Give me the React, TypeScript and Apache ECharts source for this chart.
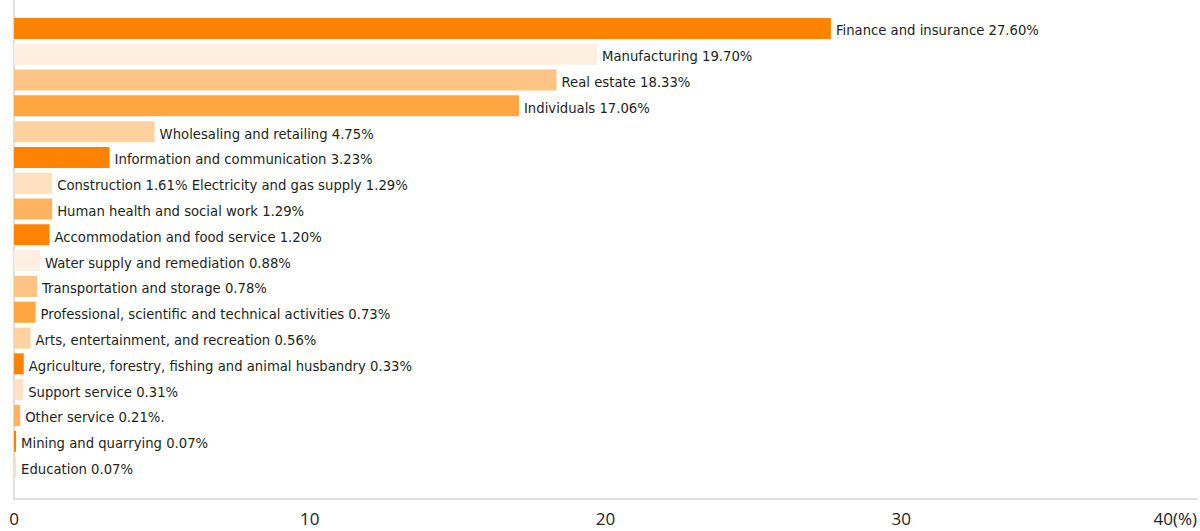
import React, { useEffect, useRef } from "react";
import * as echarts from "echarts";

const categories = [
  "Finance and insurance",
  "Manufacturing",
  "Real estate",
  "Individuals",
  "Wholesaling and retailing",
  "Information and communication",
  "Construction / Electricity and gas supply",
  "Human health and social work",
  "Accommodation and food service",
  "Water supply and remediation",
  "Transportation and storage",
  "Professional, scientific and technical activities",
  "Arts, entertainment, and recreation",
  "Agriculture, forestry, fishing and animal husbandry",
  "Support service",
  "Other service",
  "Mining and quarrying",
  "Education",
];

const values = [27.6, 19.7, 18.33, 17.06, 4.75, 3.23, 1.29, 1.29, 1.2, 0.88, 0.78, 0.73, 0.56, 0.33, 0.31, 0.21, 0.07, 0.07];

const labels = [
  "Finance and insurance 27.60%",
  "Manufacturing 19.70%",
  "Real estate 18.33%",
  "Individuals 17.06%",
  "Wholesaling and retailing 4.75%",
  "Information and communication 3.23%",
  "Construction 1.61% Electricity and gas supply 1.29%",
  "Human health and social work 1.29%",
  "Accommodation and food service 1.20%",
  "Water supply and remediation 0.88%",
  "Transportation and storage 0.78%",
  "Professional, scientific and technical activities 0.73%",
  "Arts, entertainment, and recreation 0.56%",
  "Agriculture, forestry, fishing and animal husbandry 0.33%",
  "Support service 0.31%",
  "Other service 0.21%.",
  "Mining and quarrying 0.07%",
  "Education 0.07%",
];

const barColors = [
  "#FF8200", "#FEEFE0", "#FFC385", "#FFA640", "#FFD19E", "#FF8200",
  "#FFE1C1", "#FFB360", "#FF8200", "#FEEFE0", "#FFC385", "#FFA640",
  "#FFD19E", "#FF8200", "#FFE1C1", "#FFB360", "#FF8200", "#FFE1C1",
];

const xTicks = [0, 10, 20, 30, 40];

export default function App() {
  const ref = useRef<HTMLDivElement>(null);
  useEffect(() => {
    if (!ref.current) return;
    const chart = echarts.init(ref.current, undefined, { renderer: "svg" });
    const axisColor = "#D4D4D4";
    chart.setOption({
      animation: false,
      backgroundColor: "#fff",
      grid: [
        { left: 14, right: 2, top: 15.5, height: 464.5, containLabel: false },
        { left: 14, right: 2, top: 0, bottom: 32, containLabel: false },
      ],
      xAxis: [
        { gridIndex: 0, type: "value", min: 0, max: 40, show: false },
        {
          gridIndex: 1,
          type: "value",
          min: xTicks[0],
          max: xTicks[xTicks.length - 1],
          interval: 10,
          axisLine: { show: true, lineStyle: { color: axisColor, width: 1.5 } },
          axisTick: { show: false },
          splitLine: { show: false },
          axisLabel: {
            margin: 11,
            fontFamily: "Open Sans",
            fontSize: 17,
            lineHeight: 17,
            color: "#222",
            alignMaxLabel: "right",
            formatter: (v: number) => (v === 40 ? "40(%)" : String(v)),
          },
        },
      ],
      yAxis: [
        { gridIndex: 0, type: "category", data: categories, inverse: true, show: false },
        {
          gridIndex: 1,
          type: "value",
          min: 0,
          max: 1,
          axisLine: { show: true, lineStyle: { color: axisColor, width: 1.5 } },
          axisTick: { show: false },
          axisLabel: { show: false },
          splitLine: { show: false },
        },
      ],
      series: [
        {
          type: "bar",
          xAxisIndex: 0,
          yAxisIndex: 0,
          barWidth: 21,
          data: values.map((v, i) => ({
            value: v,
            itemStyle: { color: barColors[i] },
          })),
          label: {
            show: true,
            position: "right",
            distance: 5,
            offset: [0, 1.5],
            fontFamily: "'DejaVu Sans Condensed', Roboto, sans-serif",
            fontSize: 14.7,
            color: "#231F20",
            formatter: (p: any) => labels[p.dataIndex],
          },
        },
      ],
    });
    return () => chart.dispose();
  }, []);
  return (
    <div
      ref={ref}
      style={{ position: "fixed", left: 0, top: 0, width: 1200, height: 531 }}
    />
  );
}
